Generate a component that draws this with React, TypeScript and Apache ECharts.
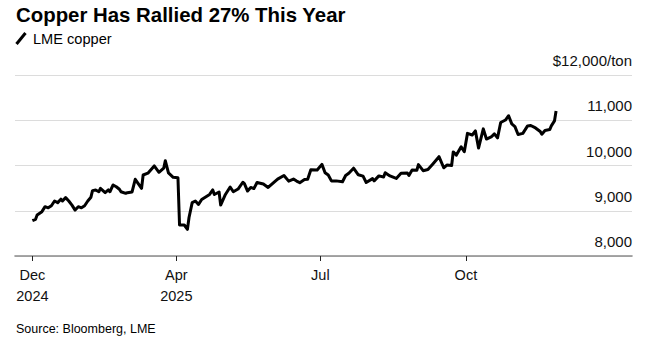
import React, { useEffect, useRef } from "react";
import * as echarts from "echarts";

// Trading dates
const dates: string[] = [
  "2024-12-31", "2025-01-02", "2025-01-03", "2025-01-06", "2025-01-08", "2025-01-10", "2025-01-12", "2025-01-14",
  "2025-01-16", "2025-01-18", "2025-01-19", "2025-01-21", "2025-01-23", "2025-01-25", "2025-01-27", "2025-01-29",
  "2025-01-31", "2025-02-02", "2025-02-04", "2025-02-06", "2025-02-07", "2025-02-09", "2025-02-11", "2025-02-12",
  "2025-02-15", "2025-02-17", "2025-02-18", "2025-02-20", "2025-02-22", "2025-02-24", "2025-02-25", "2025-02-28",
  "2025-03-01", "2025-03-04", "2025-03-06", "2025-03-10", "2025-03-11", "2025-03-14", "2025-03-18", "2025-03-21",
  "2025-03-24", "2025-03-25", "2025-03-27", "2025-03-30", "2025-04-02", "2025-04-03", "2025-04-06", "2025-04-08",
  "2025-04-09", "2025-04-11", "2025-04-13", "2025-04-15", "2025-04-17", "2025-04-22", "2025-04-24", "2025-04-25",
  "2025-04-28", "2025-04-29", "2025-05-02", "2025-05-05", "2025-05-07", "2025-05-10", "2025-05-13", "2025-05-14",
  "2025-05-16", "2025-05-18", "2025-05-20", "2025-05-22", "2025-05-26", "2025-05-29", "2025-06-02", "2025-06-04",
  "2025-06-08", "2025-06-11", "2025-06-14", "2025-06-16", "2025-06-18", "2025-06-21", "2025-06-23", "2025-06-25",
  "2025-06-29", "2025-07-02", "2025-07-04", "2025-07-06", "2025-07-08", "2025-07-11", "2025-07-15", "2025-07-17",
  "2025-07-19", "2025-07-22", "2025-07-25", "2025-07-28", "2025-07-30", "2025-08-03", "2025-08-04", "2025-08-07",
  "2025-08-10", "2025-08-11", "2025-08-14", "2025-08-18", "2025-08-21", "2025-08-25", "2025-08-26", "2025-08-28",
  "2025-08-31", "2025-09-01", "2025-09-04", "2025-09-07", "2025-09-10", "2025-09-14", "2025-09-17", "2025-09-19",
  "2025-09-22", "2025-09-23", "2025-09-25", "2025-09-28", "2025-09-30", "2025-10-02", "2025-10-05", "2025-10-07",
  "2025-10-09", "2025-10-12", "2025-10-14", "2025-10-17", "2025-10-19", "2025-10-21", "2025-10-23", "2025-10-26",
  "2025-10-28", "2025-10-30", "2025-11-01", "2025-11-03", "2025-11-06", "2025-11-09", "2025-11-11", "2025-11-14",
  "2025-11-17", "2025-11-18", "2025-11-20", "2025-11-23", "2025-11-24", "2025-11-26", "2025-11-27",
];

// LME copper, $/ton
const prices: number[] = [
  8780, 8810, 8905, 8980, 9090, 9065, 9110, 9215,
  9180, 9255, 9215, 9290, 9215, 9125, 9015, 9090,
  9065, 9110, 9215, 9300, 9445, 9460, 9420, 9495,
  9400, 9460, 9420, 9570, 9530, 9475, 9420, 9385,
  9400, 9415, 9695, 9495, 9790, 9830, 9990, 9850,
  9940, 10105, 9835, 9740, 9730, 8685, 8685, 8590,
  8850, 9180, 9215, 9140, 9250, 9360, 9460, 9360,
  9415, 9125, 9360, 9525, 9420, 9480, 9630, 9600,
  9435, 9515, 9490, 9625, 9590, 9515, 9640, 9700,
  9780, 9655, 9700, 9655, 9620, 9690, 9695, 9905,
  9900, 10025, 9840, 9790, 9660, 9660, 9640, 9780,
  9830, 9940, 9795, 9765, 9625, 9710, 9660, 9770,
  9745, 9840, 9770, 9715, 9830, 9835, 9780, 9900,
  9895, 10020, 9885, 9910, 10030, 10195, 9950, 10010,
  10000, 10300, 10230, 10415, 10305, 10710, 10675, 10765,
  10385, 10810, 10585, 10630, 10700, 10610, 10950, 11005,
  11100, 10920, 10860, 10685, 10710, 10875, 10885, 10830,
  10750, 10690, 10775, 10795, 10875, 10985, 11205,
];

// Axis extent and tick labels
const axisStart = "2024-12-20";
const axisEnd = "2026-01-14";
const tickLabels: Record<string, string> = {
  "2024-12-31": "Dec\n2024",
  "2025-04-01": "Apr\n2025",
  "2025-07-01": "Jul",
  "2025-10-01": "Oct",
};
const yTicks = [8000, 9000, 10000, 11000, 12000];

const FONT = '"Liberation Sans", Arial, Helvetica, sans-serif';

function buildCalendar(from: string, to: string): string[] {
  const out: string[] = [];
  const end = Date.parse(to + "T00:00:00Z");
  for (let t = Date.parse(from + "T00:00:00Z"); t <= end; t += 86400000) {
    out.push(new Date(t).toISOString().slice(0, 10));
  }
  return out;
}

export default function App() {
  const ref = useRef<HTMLDivElement>(null);

  useEffect(() => {
    if (!ref.current) return;
    const chart = echarts.init(ref.current, null, { renderer: "svg" });
    const categories = buildCalendar(axisStart, axisEnd);
    const priceMap = new Map<string, number>();
    dates.forEach((d, i) => priceMap.set(d, prices[i]));
    const seriesData = categories.map((c) => (priceMap.has(c) ? priceMap.get(c)! : null));
    const isTick = (_i: number, v: string) => Object.prototype.hasOwnProperty.call(tickLabels, v);

    chart.setOption({
      animation: false,
      backgroundColor: "#ffffff",
      textStyle: { fontFamily: FONT },
      grid: {
        left: 15,
        right: 14,
        top: 75,
        bottom: 82,
        containLabel: false,
        outerBoundsMode: "none",
      },
      graphic: [
        {
          type: "text",
          x: 16,
          y: 15,
          style: {
            text: "Copper Has Rallied 27% This Year",
            font: `bold 20.4px ${FONT}`,
            fill: "#000000",
            textAlign: "left",
            textVerticalAlign: "middle",
          },
        },
        {
          type: "line",
          shape: { x1: 16.5, y1: 44, x2: 25.5, y2: 33 },
          style: { stroke: "#000000", lineWidth: 3, lineCap: "butt" },
        },
        {
          type: "text",
          x: 33,
          y: 39,
          style: {
            text: "LME copper",
            font: `14.6px ${FONT}`,
            fill: "#000000",
            textAlign: "left",
            textVerticalAlign: "middle",
          },
        },
        {
          type: "text",
          x: 16,
          y: 329,
          style: {
            text: "Source: Bloomberg, LME",
            font: `12.5px ${FONT}`,
            fill: "#000000",
            textAlign: "left",
            textVerticalAlign: "middle",
          },
        },
      ],
      xAxis: {
        type: "category",
        data: categories,
        boundaryGap: false,
        axisLine: { show: true, lineStyle: { color: "#8a8a8a", width: 1.6 } },
        axisTick: {
          show: true,
          interval: isTick,
          length: 5,
          lineStyle: { color: "#222222", width: 1 },
        },
        axisLabel: {
          interval: isTick,
          formatter: (v: string) => tickLabels[v] ?? "",
          color: "#111111",
          fontSize: 14.5,
          fontFamily: FONT,
          lineHeight: 21,
          margin: 8,
        },
        splitLine: { show: false },
      },
      yAxis: {
        type: "value",
        position: "right",
        min: 8000,
        max: 12000,
        interval: 1000,
        axisLine: { show: false },
        axisTick: { show: false },
        splitLine: { show: true, lineStyle: { color: "#dcdcdc", width: 1 } },
        axisLabel: {
          inside: true,
          margin: 0,
          color: "#111111",
          fontSize: 15,
          fontFamily: FONT,
          verticalAlign: "bottom",
          padding: [0, 0, 7, 0],
          formatter: (v: number) =>
            yTicks.includes(v) ? (v === 12000 ? "$12,000/ton" : v.toLocaleString("en-US")) : "",
        },
      },
      series: [
        {
          type: "line",
          name: "LME copper",
          data: seriesData,
          connectNulls: true,
          showSymbol: false,
          symbol: "none",
          lineStyle: { color: "#000000", width: 3, join: "round" },
          z: 5,
        },
      ],
    });
    return () => chart.dispose();
  }, []);

  return (
    <div
      ref={ref}
      style={{ position: "fixed", left: 0, top: 0, width: 646, height: 338, background: "#fff" }}
    />
  );
}
